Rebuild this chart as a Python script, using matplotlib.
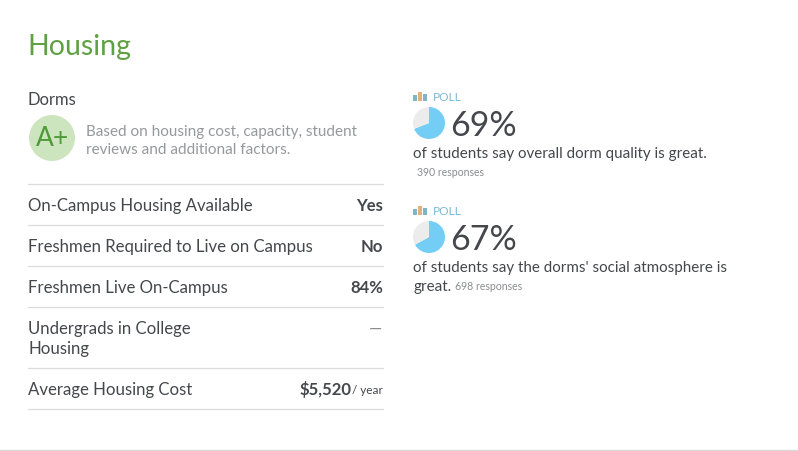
import matplotlib.pyplot as plt
from matplotlib.patches import Circle

plt.rcParams['font.family'] = ['Lato', 'DejaVu Sans']

W, H = 798, 451

row_labels = ['On-Campus Housing Available', 'Freshmen Required to Live on Campus',
              'Freshmen Live On-Campus', 'Undergrads in College\nHousing', 'Average Housing Cost']
row_values = ['Yes', 'No', '84%', '—', '$5,520']
row_y = [205, 246, 287, 338, 389]
rule_y = [184, 225, 266, 307, 368, 409]

poll_pct = [69, 67]
poll_y = [97, 211]
poll_text = ['of students say overall dorm quality is great.',
             "of students say the dorms' social atmosphere is\ngreat."]

fig = plt.figure(figsize=(W / 100, H / 100), dpi=100, facecolor='white')
ax = fig.add_axes([0, 0, 1, 1])
ax.set_xlim(0, W)
ax.set_ylim(H, 0)
ax.axis('off')

dark = '#44474b'
ax.text(27, 46.5, 'Housing', fontsize=20.5, color='#5ea142', va='center')
ax.text(27.5, 100, 'Dorms', fontsize=12, color=dark, va='center')

# grade badge
ax.add_patch(Circle((52, 138), 23, fc='#cde5bf', ec='none'))
ax.text(53, 139, 'A+', fontsize=19, color='#4f9a38', ha='center', va='center')
ax.text(86, 132, 'Based on housing cost, capacity, student', fontsize=10.95, color='#96989b', va='center')
ax.text(86, 150, 'reviews and additional factors.', fontsize=10.95, color='#96989b', va='center')

# table
for y in rule_y:
    ax.plot([28, 383], [y, y], color='#dcdcdc', lw=0.9)
for lab, val, y in zip(row_labels, row_values, row_y):
    if '\n' in lab:
        a, b = lab.split('\n')
        ax.text(28, y - 9, a, fontsize=12.05, color=dark, va='center')
        ax.text(28, y + 11, b, fontsize=12.05, color=dark, va='center')
        ax.text(382, y - 9, val, fontsize=12, color='#8a8c8f', ha='right', va='center')
    else:
        ax.text(28, y + 1, lab, fontsize=12.05, color=dark, va='center')
        if val.startswith('$'):
            ax.text(352, y + 1, val, fontsize=12, color=dark, ha='right', va='center', fontweight='bold')
            ax.text(383, y + 2, '/ year', fontsize=8.5, color=dark, ha='right', va='center')
        else:
            ax.text(383, y + 1, val, fontsize=12, color=dark, ha='right', va='center', fontweight='bold')

# polls
bar_heights = [6, 9, 7]
bar_cols = ['#7fb4c9', '#e3b07c', '#7fb4c9']
for pct, y, txt in zip(poll_pct, poll_y, poll_text):
    for i, (bh, c) in enumerate(zip(bar_heights, bar_cols)):
        ax.bar(415 + i * 5, -bh, width=3.6, bottom=y + 4, color=c, lw=0)
    ax.text(433, y + 0.5, 'POLL', fontsize=8.6, color='#7ab8d6', va='center')
    pie_ax = fig.add_axes([413 / W, 1 - (y + 42) / H, 32 / W, 32 / H])
    pie_ax.pie([pct, 100 - pct], colors=['#74cdf5', '#ececec'], startangle=90, counterclock=False, radius=1.0)
    pie_ax.set_xlim(-1, 1)
    pie_ax.set_ylim(-1, 1)
    ax.text(450, y + 29, f'{pct}%', fontsize=24.5, color=dark, va='center')
    lines = txt.split('\n')
    for j, line in enumerate(lines):
        ax.text(413, y + 57 + j * 19, line, fontsize=10.88, color=dark, va='center')

ax.text(417, 172, '390 responses', fontsize=7.6, color='#8a8c8f', va='center')
ax.text(455, 286.5, '698 responses', fontsize=7.6, color='#8a8c8f', va='center')

# bottom rule
ax.plot([0, W], [450, 450], color='#d9d9d9', lw=1)

fig.savefig('out.png', dpi=100)
